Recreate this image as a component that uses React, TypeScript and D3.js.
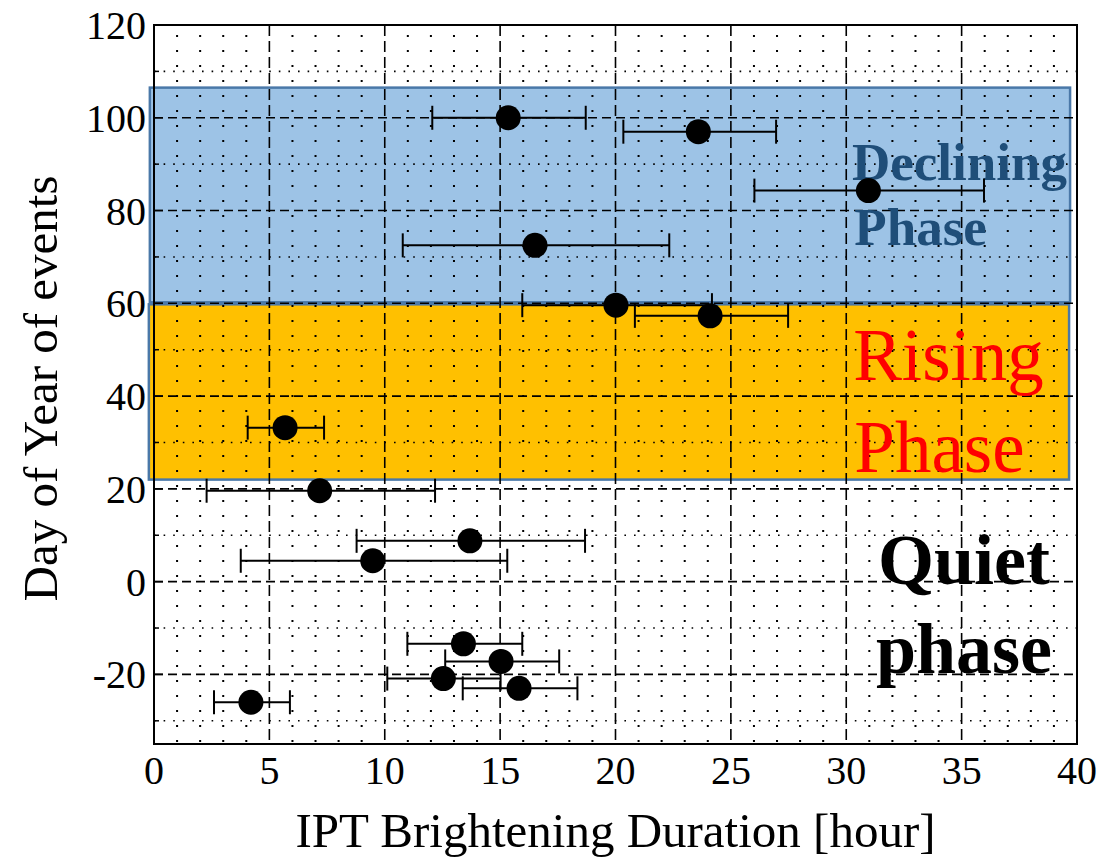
import React from "react";
import * as d3 from "d3";

// ---- data ----
const durations = [15.35, 23.59, 30.96, 16.51, 20.02, 24.1, 5.68, 7.18, 13.69, 9.48, 13.41, 15.04, 12.54, 15.82, 4.2];
const days = [100, 97.0, 84.3, 72.5, 59.6, 57.3, 33.2, 19.6, 8.8, 4.5, -13.4, -17.2, -20.9, -23.0, -26.0];
const errLow = [12.06, 20.34, 26.02, 10.78, 15.96, 20.84, 4.06, 2.28, 8.78, 3.76, 10.98, 12.62, 10.11, 13.38, 2.6];
const errHigh = [18.71, 26.96, 35.97, 22.33, 24.18, 27.48, 7.37, 12.18, 18.68, 15.31, 15.96, 17.56, 15.02, 18.35, 5.89];

const xTicks = [0, 5, 10, 15, 20, 25, 30, 35, 40];
const yTicks = [-20, 0, 20, 40, 60, 80, 100, 120];
const xMinor = d3.range(0, 41).filter((v) => v % 5 !== 0);
const yMinor = [-30, -10, 10, 30, 50, 70, 90, 110];

// phase bands [yLow, yHigh] in day units, x extent in hours
const declBand = [60, 106.5];
const riseBand = [22, 60];
const bandX = [-0.18, 39.7];

const W = 1120;
const H = 857;
const FONT = "'Liberation Serif', 'Times New Roman', serif";

export default function App() {
  const x = d3.scaleLinear().domain([0, 40]).range([154, 1077]);
  const y = d3.scaleLinear().domain([-35, 120]).range([744, 25]);
  const [x0, x1] = x.range();
  const [yb, yt] = y.range();

  return (
    <svg
      width={W}
      height={H}
      style={{ position: "absolute", left: 0, top: 0, background: "#fff" }}
      fontFamily={FONT}
    >
      {/* phase bands */}
      <rect
        x={x(bandX[0])}
        y={y(declBand[1])}
        width={x(bandX[1]) - x(bandX[0])}
        height={y(declBand[0]) - y(declBand[1]) - 1}
        fill="#9DC3E6"
        stroke="#4A78A8"
        strokeWidth={2.5}
      />
      <rect
        x={x(bandX[0]) - 1}
        y={y(riseBand[1]) + 1}
        width={x(bandX[1]) - x(bandX[0])}
        height={y(riseBand[0]) - y(riseBand[1]) - 1}
        fill="#FFC000"
        stroke="#4A78A8"
        strokeWidth={2.5}
      />

      {/* minor grid */}
      {xMinor.map((v) => (
        <line key={"xm" + v} x1={x(v)} x2={x(v)} y1={yt} y2={yb} stroke="#000" strokeWidth={2} strokeDasharray="2 13" strokeDashoffset={-10} />
      ))}
      {yMinor.map((v) => (
        <line key={"ym" + v} x1={x0} x2={x1} y1={y(v)} y2={y(v)} stroke="#000" strokeWidth={1.6} strokeDasharray="1.6 8" />
      ))}
      {/* major grid */}
      {xTicks.slice(1, -1).map((v) => (
        <line key={"xg" + v} x1={x(v)} x2={x(v)} y1={yt} y2={yb} stroke="#000" strokeWidth={1.6} strokeDasharray="11 5" />
      ))}
      {yTicks.slice(0, -1).map((v) => (
        <line key={"yg" + v} x1={x0} x2={x1} y1={y(v)} y2={y(v)} stroke="#000" strokeWidth={1.6} strokeDasharray="9 5" />
      ))}

      {/* ticks on left axis */}
      {yTicks.map((v) => (
        <line key={"yt" + v} x1={x0} x2={x0 + 9} y1={y(v)} y2={y(v)} stroke="#000" strokeWidth={1.5} />
      ))}
      {yMinor.map((v) => (
        <line key={"ytm" + v} x1={x0} x2={x0 + 5} y1={y(v)} y2={y(v)} stroke="#000" strokeWidth={1.5} />
      ))}

      {/* frame */}
      <rect x={x0} y={yt} width={x1 - x0} height={yb - yt} fill="none" stroke="#000" strokeWidth={2} />

      {/* phase labels */}
      <text x={x(30.25)} y={y(86.6)} fontSize={53} fontWeight="bold" fill="#1F4E79">Declining</text>
      <text x={x(30.35)} y={y(72.6)} fontSize={53} fontWeight="bold" fill="#1F4E79">Phase</text>
      <text x={x(30.3)} y={y(43.5)} fontSize={73} fill="#FF0000">Rising</text>
      <text x={x(30.35)} y={y(23.6)} fontSize={73} fill="#FF0000">Phase</text>
      <text x={x(35.1)} y={y(-0.4)} fontSize={72} fontWeight="bold" fill="#000" textAnchor="middle">Quiet</text>
      <text x={x(35.1)} y={y(-19.6)} fontSize={72} fontWeight="bold" fill="#000" textAnchor="middle">phase</text>

      {/* error bars */}
      {durations.map((d, i) => (
        <g key={"e" + i} stroke="#000" strokeWidth={2}>
          <line x1={x(errLow[i])} x2={x(errHigh[i])} y1={y(days[i])} y2={y(days[i])} />
          <line x1={x(errLow[i])} x2={x(errLow[i])} y1={y(days[i]) - 12} y2={y(days[i]) + 12} />
          <line x1={x(errHigh[i])} x2={x(errHigh[i])} y1={y(days[i]) - 12} y2={y(days[i]) + 12} />
        </g>
      ))}
      {/* markers */}
      {durations.map((d, i) => (
        <circle key={"p" + i} cx={x(d)} cy={y(days[i])} r={12.5} fill="#000" />
      ))}

      {/* tick labels */}
      {xTicks.map((v) => (
        <text key={"xl" + v} x={x(v)} y={784} fontSize={40} textAnchor="middle" fill="#000">{v}</text>
      ))}
      {yTicks.map((v) => (
        <text key={"yl" + v} x={146} y={y(v)} dy="0.35em" fontSize={40} textAnchor="end" fill="#000">{v}</text>
      ))}

      {/* axis labels */}
      <text x={(x0 + x1) / 2} y={847} fontSize={49} textAnchor="middle" fill="#000">IPT Brightening Duration [hour]</text>
      <text transform={`translate(57,${(yt + yb) / 2 + 4}) rotate(-90)`} fontSize={49} textAnchor="middle" fill="#000">Day of Year of events</text>
    </svg>
  );
}
